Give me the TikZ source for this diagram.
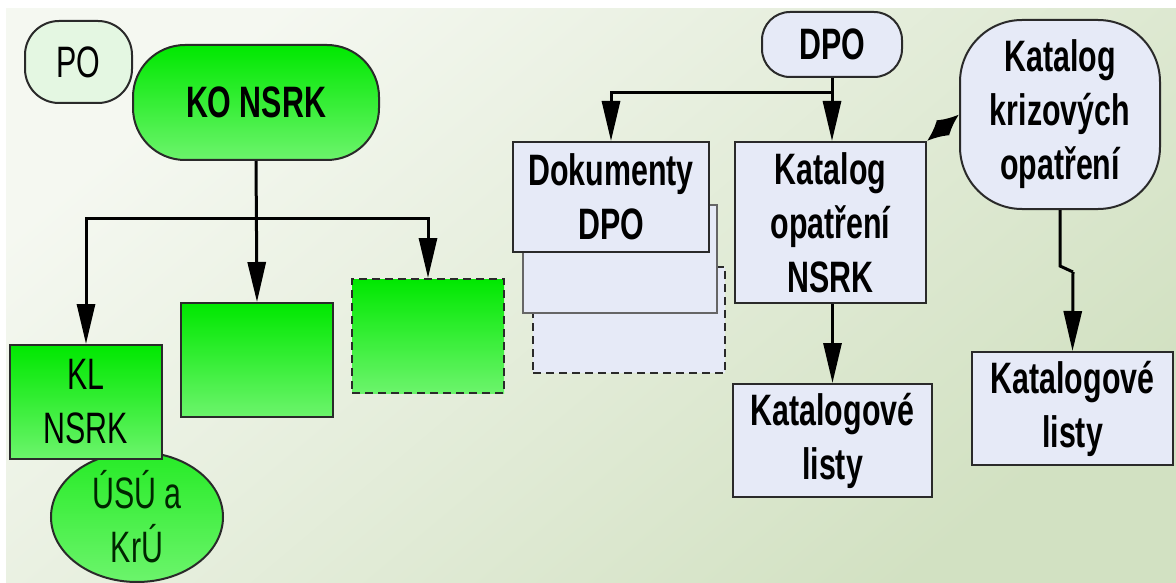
\documentclass[tikz,border=0pt]{standalone}
\usepackage{fontspec}
\setmainfont{Liberation Sans}[FakeStretch=0.69]
\usetikzlibrary{arrows.meta,shapes.geometric}
\definecolor{bgA}{HTML}{F5F8F1}
\definecolor{bgB}{HTML}{D2E1C2}
\definecolor{gTop}{HTML}{00E800}
\definecolor{gBot}{HTML}{6CF46C}
\definecolor{lav}{HTML}{E6EAF7}
\definecolor{pale}{HTML}{E4F7E2}
\definecolor{edge}{HTML}{2A2A2A}
\tikzset{
  big/.style={font=\fontsize{44}{54}\selectfont},
  bigb/.style={font=\fontsize{44}{54}\selectfont\bfseries},
  gbox/.style={draw=edge, line width=2pt, top color=gTop, bottom color=gBot, align=center, inner sep=0pt},
  lbox/.style={draw=edge, line width=2pt, fill=lav, align=center, inner sep=0pt},
  arr/.style={line width=3pt, -{Triangle[length=40pt,width=18pt]}},
  ln/.style={line width=3pt},
}
\begin{document}
\begin{tikzpicture}[x=1pt,y=-1pt]
\useasboundingbox (0,0) rectangle (1176,583);
\fill[white] (0,0) rectangle (1176,583);
\shade[top color=bgA, bottom color=bgB, shading angle=40] (6,9) rectangle (1176,583);

% left part
\node[draw=edge, line width=2pt, fill=pale, rounded corners=34pt, minimum width=107pt, minimum height=82pt, big, inner sep=0pt] (po) at (78.5,62) {PO};
\node[gbox, rounded corners=52pt, minimum width=246pt, minimum height=115pt, bigb] (ko) at (256,102.5) {KO NSRK};

\node[draw=edge, line width=2pt, ellipse, top color=gTop!85!white, bottom color=gBot, minimum width=172pt, minimum height=130pt, inner sep=0pt] (usu) at (137,517) {};
\node[big, align=center, text=black!85!green] at (137,517) {ÚSÚ a\\KrÚ};
\node[gbox, minimum width=152pt, minimum height=114pt, big] (kl) at (86,402) {KL\\NSRK};
\node[gbox, minimum width=152pt, minimum height=114pt] (mid) at (257,360) {};
\node[gbox, dashed, dash pattern=on 8pt off 5pt, minimum width=152pt, minimum height=114pt] (dsh) at (428,336) {};

\coordinate (b1) at (257,218);
\draw[arr] (ko.south) -- (mid.north);
\draw[arr] (b1) -| (kl.north);
\draw[arr] (b1) -| (dsh.north);

% right part
\node[draw=edge, line width=2pt, fill=lav, rounded corners=28pt, minimum width=140pt, minimum height=65pt, bigb, inner sep=0pt] (dpo) at (832,44.5) {DPO};

\node[lbox, dashed, dash pattern=on 8pt off 5pt, minimum width=192pt, minimum height=106pt] (dok3) at (629,320) {};
\node[lbox, draw=black!60, minimum width=194pt, minimum height=108pt] (dok2) at (620,259) {};
\node[lbox, minimum width=196pt, minimum height=110pt, bigb] (dok) at (611,197) {Dokumenty\\DPO};

\node[lbox, minimum width=191pt, minimum height=161pt, bigb] (kon) at (830.5,222.5) {Katalog\\opatření\\NSRK};
\node[lbox, minimum width=199pt, minimum height=113pt, bigb] (kl1) at (832.5,440.5) {Katalogové\\listy};

\node[lbox, rounded corners=62pt, minimum width=200pt, minimum height=189pt, bigb] (kk) at (1060,114.5) {Katalog\\krizových\\opatření};
\node[lbox, minimum width=201pt, minimum height=113pt, bigb] (kl2) at (1072.5,408.5) {Katalogové\\listy};

\coordinate (b2) at (832,93);
\draw[arr] (dpo.south) -- (dpo.south |- kon.north);
\draw[arr] (b2) -| (dok.north);
\draw[arr] (kon.south -| kl1.north) -- (kl1.north);
\coordinate (j1) at (1060,266);
\coordinate (j2) at (1073,272);
\draw[ln] (kk.south) -- (j1) -- (j2);
\draw[arr] (j2) -- (kl2.north);
\draw[line width=3pt, {Latex[length=21pt,width=20pt]}-{Latex[length=21pt,width=20pt]}] (kon.north east) -- (kk.west);
\end{tikzpicture}
\end{document}
